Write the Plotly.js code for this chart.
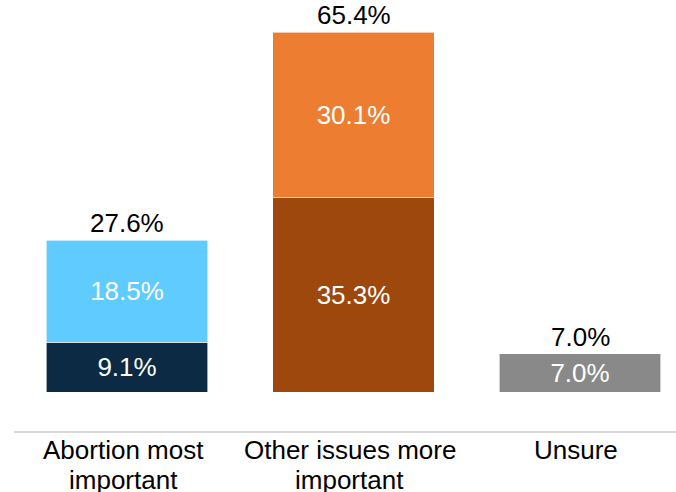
<!DOCTYPE html>
<html>
<head>
<meta charset="utf-8">
<script src="https://cdn.plot.ly/plotly-3.0.1.min.js"></script>
<style>html,body{margin:0;padding:0;background:#fff;}#chart{width:676px;height:492px;}</style>
</head>
<body>
<div id="chart"></div>
<script>
const categories = ["Abortion most<br>important", "Other issues more<br>important", "Unsure"];
const bottomValues = [9.1, 35.3, 7.0];
const topValues = [18.5, 30.1, null];
const totals = [27.6, 65.4, 7.0];
const bottomColors = ["#0c2a44", "#9e480e", "#898989"];
const topColors = ["#5fcbfe", "#ed7d31", "#ed7d31"];

const fontFam = "Liberation Sans, Arial, sans-serif";
const xIdx = categories.map((c, i) => i);

const traces = [
  {
    type: "bar", x: xIdx, y: bottomValues, width: 0.715,
    marker: {color: bottomColors, line: {color: "#ffffff", width: 0.6}},
    text: bottomValues.map(v => v.toFixed(1) + "%"),
    textposition: "inside", insidetextanchor: "middle",
    textfont: {family: fontFam, size: 26, color: "#ffffff"},
    constraintext: "none", hoverinfo: "none"
  },
  {
    type: "bar", x: xIdx, y: topValues, width: 0.715,
    marker: {color: topColors, line: {color: "#ffffff", width: 0.6}},
    text: topValues.map(v => v == null ? "" : v.toFixed(1) + "%"),
    textposition: "inside", insidetextanchor: "middle",
    textfont: {family: fontFam, size: 26, color: "#ffffff"},
    constraintext: "none", hoverinfo: "none"
  }
];

const annotations = totals.map((t, i) => ({
  x: i, y: t, xref: "x", yref: "y", text: t.toFixed(1) + "%",
  showarrow: false, yanchor: "bottom", yshift: 0,
  font: {family: fontFam, size: 26, color: "#000000"}
}));

// category labels, one annotation per line (tighter line spacing than Plotly's default)
categories.forEach((c, i) => {
  c.split("<br>").forEach((line, k) => {
    annotations.push({
      x: i, y: 0, xref: "x", yref: "paper", text: line,
      showarrow: false, yanchor: "top", xshift: -4, yshift: -1 - 30 * k,
      font: {family: fontFam, size: 26, color: "#000000"}
    });
  });
});

const layout = {
  width: 676, height: 492,
  margin: {l: 0, r: 0, t: 0, b: 60},
  paper_bgcolor: "#ffffff", plot_bgcolor: "#ffffff",
  barmode: "stack", showlegend: false,
  font: {family: fontFam, color: "#000000"},
  xaxis: {
    range: [-0.5607, 2.4238], showticklabels: false,
    showline: false, showgrid: false, zeroline: false, ticks: "", fixedrange: true
  },
  yaxis: {
    range: [-7.17, 71.21], visible: false, showgrid: false, zeroline: false, fixedrange: true
  },
  annotations: annotations,
  shapes: [{
    type: "line", xref: "paper", yref: "paper", x0: 14/676, x1: 1, y0: 0, y1: 0,
    line: {color: "#d9d9d9", width: 2}
  }]
};

Plotly.newPlot("chart", traces, layout, {displayModeBar: false, staticPlot: true});
</script>
</body>
</html>
